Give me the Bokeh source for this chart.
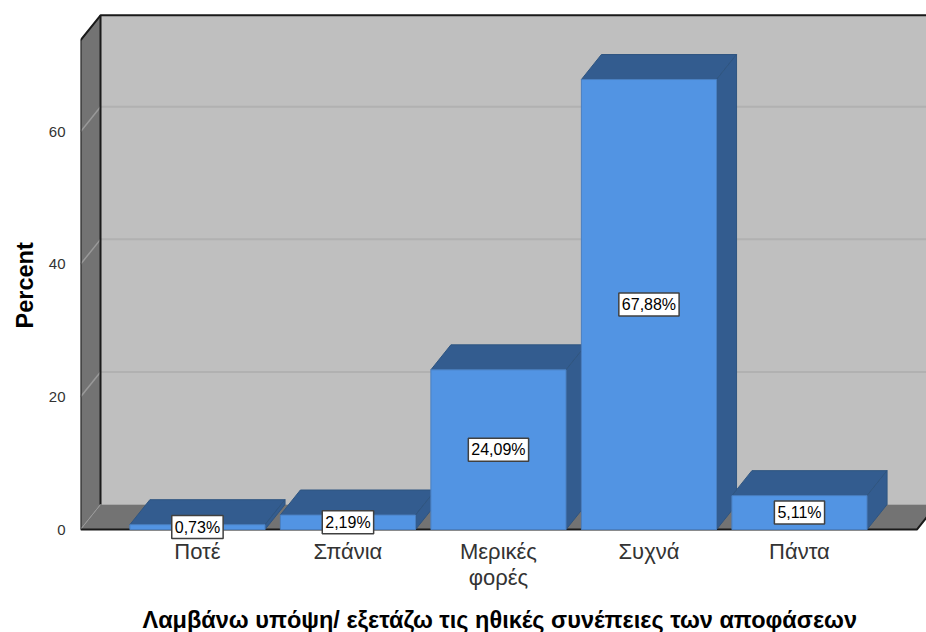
from bokeh.embed import file_html
from bokeh.resources import INLINE
from bokeh.plotting import figure
from bokeh.models import FixedTicker, Label, Range1d, Title

categories = ["Ποτέ", "Σπάνια", "Μερικές\nφορές", "Συχνά", "Πάντα"]
percents = [0.73, 2.19, 24.09, 67.88, 5.11]
percent_labels = ["0,73%", "2,19%", "24,09%", "67,88%", "5,11%"]
y_ticks = [0, 20, 40, 60]

FRONT = "#5294e3"
SHADE = "#335c8f"
EDGE = "#2f5580"
WALL = "#bfbfbf"
SIDE = "#737373"
GRID = "#b1b1b1"
GRID_SIDE = "#999999"
FONT = "Liberation Sans"

# Oblique projection of the chart box: depth expressed in axis units
DX = 0.133
DY = 3.77
HALF = 0.449
X0, X1 = -0.777, 4.844
Y_BOTTOM, Y_TOP = -2.41, 79.8
WALL_H = 73.8
BOX_R = 4.78

p = figure(width=926, height=632, output_backend="svg", toolbar_location=None,
           x_range=Range1d(X0, X1), y_range=Range1d(Y_BOTTOM, Y_TOP),
           min_border_left=80, min_border_right=0, min_border_top=0, min_border_bottom=87,
           outline_line_color=None, background_fill_color="white")
p.grid.visible = False

# Chart box: back wall, left wall, floor
p.patch([X0 + DX, X1 + 1, X1 + 1, X0 + DX], [DY, DY, WALL_H + DY, WALL_H + DY],
        fill_color=WALL, line_color=None)
p.patch([X0, X0 + DX, X0 + DX, X0], [0, DY, WALL_H + DY, WALL_H],
        fill_color=SIDE, line_color=None)
p.patch([X0, X0 + DX, BOX_R + DX, BOX_R], [0, DY, DY, 0],
        fill_color=SIDE, line_color=None)

# Gridlines wrap from the left wall onto the back wall
for t in y_ticks[1:]:
    p.line([X0, X0 + DX], [t, t + DY], line_color=GRID_SIDE, line_width=1.5)
    p.line([X0 + DX, X1 + 1], [t + DY, t + DY], line_color=GRID, line_width=2)

# Box outline
p.line([X0, X0, X0 + DX, X1 + 1], [0, WALL_H, WALL_H + DY, WALL_H + DY],
       line_color="#1a1a1a", line_width=2)
p.line([X0 + DX, X0 + DX], [DY, WALL_H + DY], line_color="#1a1a1a", line_width=2)
p.line([X0, X0 + DX], [0, DY], line_color="#9a9a9a", line_width=1)
p.line([X0, BOX_R, BOX_R + DX], [0, 0, DY], line_color="#1a1a1a", line_width=2)

# Bars, each with a front, a top and a right-hand side
for i, v in enumerate(percents):
    l, r = i - HALF, i + HALF
    p.patch([l, l + DX, r + DX, r], [v, v + DY, v + DY, v],
            fill_color=SHADE, line_color=EDGE, line_width=1)
    p.patch([r, r + DX, r + DX, r], [0, DY, v + DY, v],
            fill_color=SHADE, line_color=EDGE, line_width=1)
    p.patch([l, r, r, l], [0, 0, v, v],
            fill_color=FRONT, line_color="#4a7fc0", line_width=1)

# Boxed value labels at the middle of each bar
for i, (v, t) in enumerate(zip(percents, percent_labels)):
    p.add_layout(Label(x=i, y=v / 2, text=t,
                       text_font=FONT, text_font_size="16px", text_color="black",
                       text_align="center", text_baseline="middle",
                       padding=(3, 3),
                       background_fill_color="white",
                       border_line_color="#404040", border_line_width=1.5))

xa = p.xaxis[0]
xa.ticker = FixedTicker(ticks=list(range(5)))
xa.major_label_overrides = {i: c for i, c in enumerate(categories)}
xa.major_label_text_font = FONT
xa.major_label_text_font_size = "22px"
xa.major_label_text_color = "#333333"
xa.major_label_text_line_height = 1.05
xa.major_label_standoff = -13
xa.axis_line_color = None
xa.major_tick_line_color = None
xa.minor_tick_line_color = None

ya = p.yaxis[0]
ya.ticker = FixedTicker(ticks=y_ticks)
ya.major_label_text_font = FONT
ya.major_label_text_font_size = "15px"
ya.major_label_text_color = "#333333"
ya.major_label_standoff = 9
ya.axis_line_color = None
ya.major_tick_line_color = None
ya.minor_tick_line_color = None

# Axis titles sit in their own side panels, shifted to centre on the box
p.add_layout(Title(text="Percent", align="left", offset=217, standoff=16,
                   text_font=FONT, text_font_size="23.5px", text_font_style="bold",
                   text_color="black"), "left")
# A blank title panel opens the gap between the category labels and the axis title
p.add_layout(Title(text=" ", text_font_size="9px", standoff=0), "below")
p.add_layout(Title(text="Λαμβάνω υπόψη/ εξετάζω τις ηθικές συνέπειες των αποφάσεων",
                   align="left", offset=62, standoff=0,
                   text_font=FONT, text_font_size="23.5px", text_font_style="bold",
                   text_color="black"), "below")

open("out.html", "w").write(file_html(p, INLINE))
